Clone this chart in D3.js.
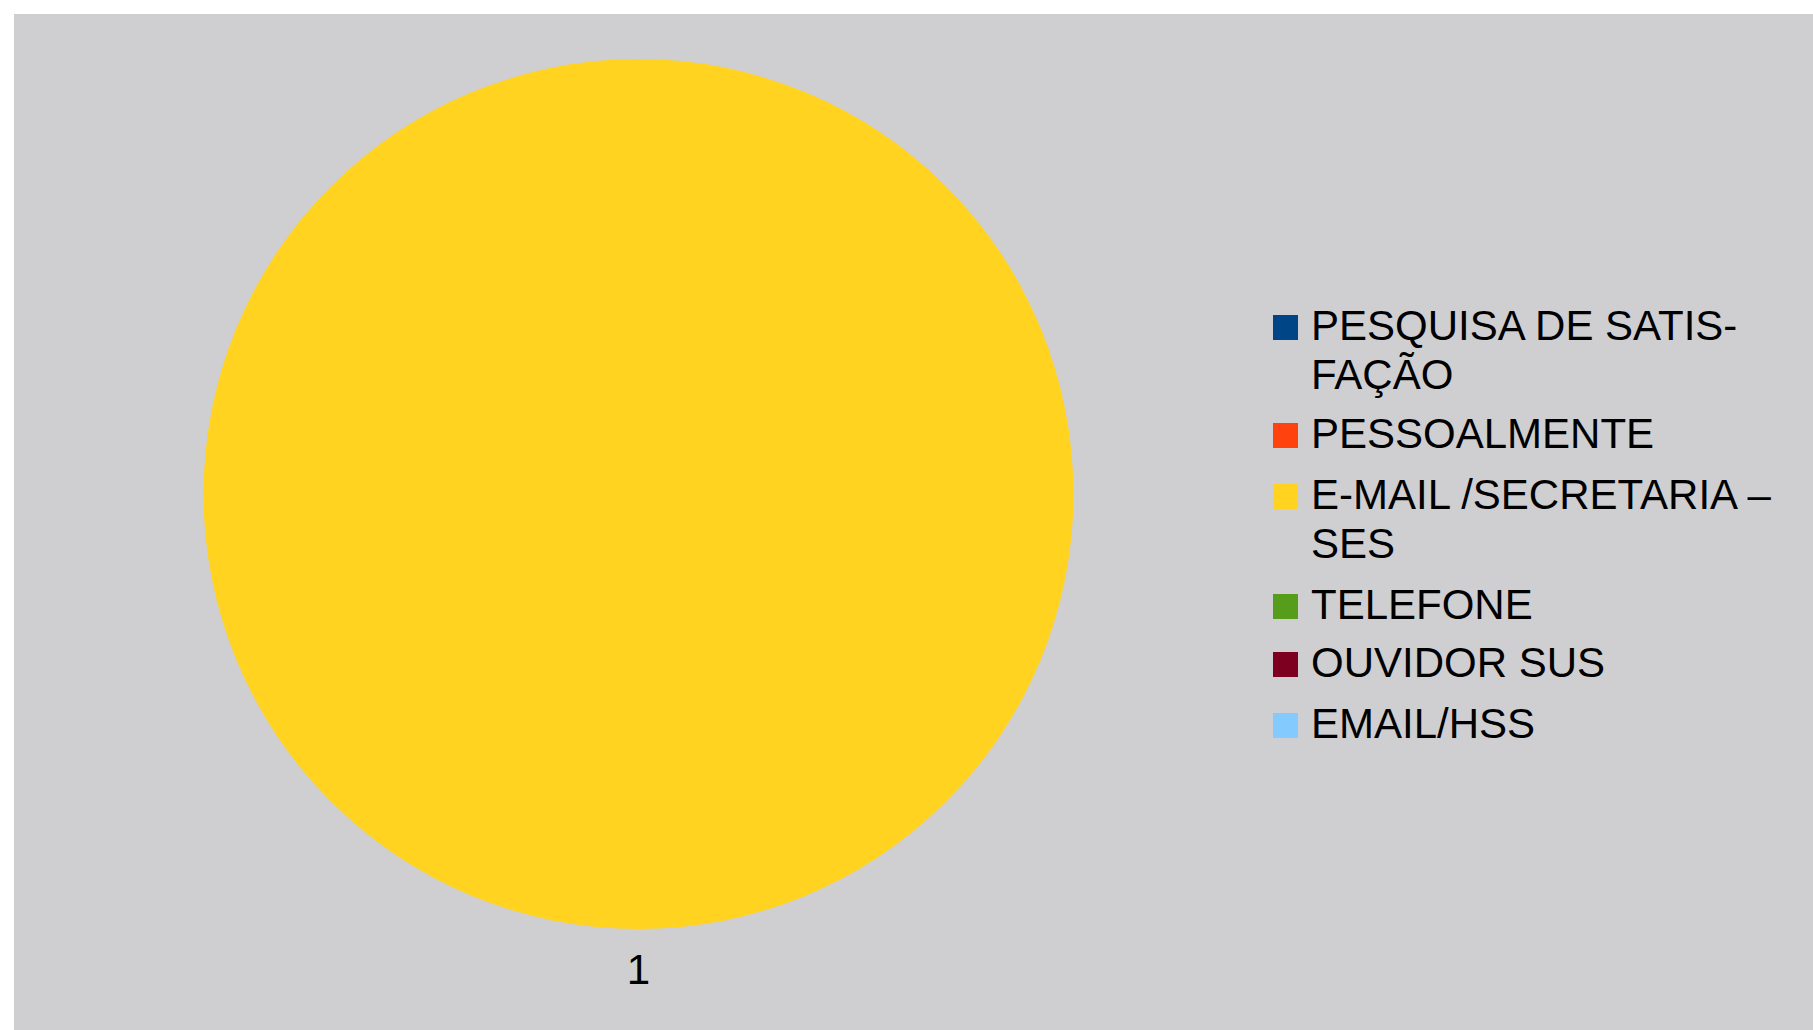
<!DOCTYPE html>
<html><head><meta charset="utf-8">
<script src="https://cdn.jsdelivr.net/npm/d3@7"></script>
<style>html,body{margin:0;padding:0;background:#fff;}svg{display:block;}</style>
</head><body>
<script>
const categories = ["PESQUISA DE SATIS-\nFAÇÃO", "PESSOALMENTE", "E-MAIL /SECRETARIA –\nSES", "TELEFONE", "OUVIDOR SUS", "EMAIL/HSS"];
const values = [0, 0, 1, 0, 0, 0];
const colors = ["#004586", "#ff420e", "#ffd320", "#579d1c", "#7e0021", "#83caff"];
const seriesLabel = "1";

const W = 1813, H = 1030;
const svg = d3.select("body").append("svg").attr("width", W).attr("height", H);
svg.append("rect").attr("x", 14).attr("y", 14).attr("width", W - 14).attr("height", H - 14).attr("fill", "#cfcfd1");

const cx = 638.5, cy = 494, r = 435;
const data = categories.map((c, i) => ({ name: c, value: values[i], color: colors[i] }));
const pie = d3.pie().sort(null).value(d => d.value);
const arc = d3.arc().innerRadius(0).outerRadius(r);
const g = svg.append("g").attr("transform", `translate(${cx},${cy})`);
g.selectAll("path").data(pie(data).filter(d => d.data.value > 0)).join("path")
  .attr("d", arc).attr("fill", d => d.data.color);

svg.append("text").attr("x", cx).attr("y", 984).attr("text-anchor", "middle")
  .attr("font-family", "Liberation Sans, Arial, sans-serif").attr("font-size", 42)
  .attr("fill", "#000").text(seriesLabel);

// legend
const baselines = [340, 448, 509, 619, 677, 738];
const lg = svg.append("g");
data.forEach((d, i) => {
  const b = baselines[i];
  lg.append("rect").attr("x", 1273).attr("y", b - 25).attr("width", 25).attr("height", 25).attr("fill", d.color);
  const t = lg.append("text").attr("font-family", "Liberation Sans, Arial, sans-serif")
    .attr("font-size", 42).attr("fill", "#000")
    .attr("transform", `translate(1311,${b})`);
  d.name.split("\n").forEach((line, j) => {
    t.append("tspan").attr("x", 0).attr("y", j * 49).text(line);
  });
});
</script>
</body></html>
